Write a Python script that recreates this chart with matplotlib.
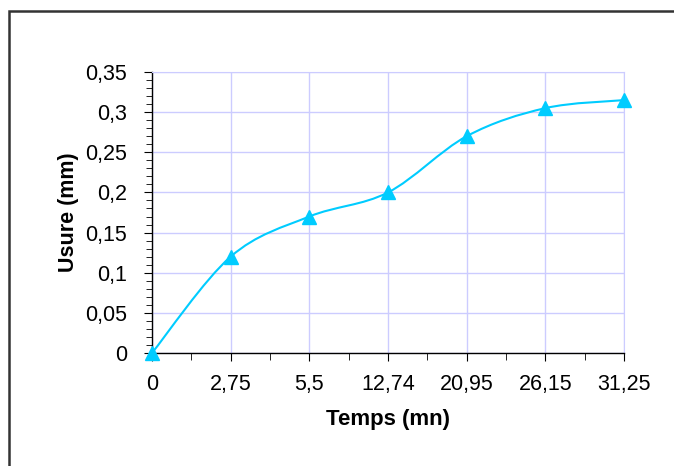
import numpy as np
import matplotlib
matplotlib.use("Agg")
import matplotlib.pyplot as plt
from matplotlib.path import Path
from matplotlib.patches import PathPatch, Rectangle

# data: wear (mm) vs time (mn), time shown as categories
temps_labels = ["0", "2,75", "5,5", "12,74", "20,95", "26,15", "31,25"]
usure = [0.0, 0.12, 0.17, 0.20, 0.27, 0.305, 0.315]
y_ticks = [0, 0.05, 0.1, 0.15, 0.2, 0.25, 0.3, 0.35]
y_labels = ["0", "0,05", "0,1", "0,15", "0,2", "0,25", "0,3", "0,35"]

line_col = "#00ccff"
grid_col = "#ccccff"

plt.rcParams["font.family"] = "Liberation Sans"

fig = plt.figure(figsize=(6.74, 4.66), dpi=100)
W, H = 674, 466
ax = fig.add_axes([152 / W, 1 - 353 / H, (624 - 152) / W, (353 - 72) / H])

xs = np.arange(len(usure))
ys = np.array(usure)

# smoothed line like the spreadsheet (bezier through the points)
verts = [(xs[0], ys[0])]
codes = [Path.MOVETO]
n = len(xs)
for i in range(n - 1):
    p0 = np.array([xs[max(i - 1, 0)], ys[max(i - 1, 0)]])
    p1 = np.array([xs[i], ys[i]])
    p2 = np.array([xs[i + 1], ys[i + 1]])
    p3 = np.array([xs[min(i + 2, n - 1)], ys[min(i + 2, n - 1)]])
    c1 = p1 + (p2 - p0) / 6
    c2 = p2 - (p3 - p1) / 6
    verts += [tuple(c1), tuple(c2), tuple(p2)]
    codes += [Path.CURVE4] * 3
ax.add_patch(PathPatch(Path(verts, codes), fill=False, edgecolor=line_col,
                       lw=1.5, zorder=3, clip_on=False))
ax.plot(xs, ys, linestyle="none", marker="^", markersize=9.5, color=line_col,
        zorder=4, clip_on=False)

ax.set_xlim(0, len(usure) - 1)
ax.set_ylim(0, 0.35)
ax.set_xticks(xs)
ax.set_xticklabels(temps_labels, fontsize=15.5)
ax.set_xticks(xs[:-1] + 0.5, minor=True)
ax.set_yticks(y_ticks)
ax.set_yticklabels(y_labels, fontsize=15.5)
ax.set_yticks(np.arange(0, 0.351, 0.01), minor=True)

ax.grid(True, which="major", color=grid_col, lw=1)
ax.set_axisbelow(True)
for s in ["top", "right"]:
    ax.spines[s].set_color(grid_col)
for s in ["left", "bottom"]:
    ax.spines[s].set_color("black")
    ax.spines[s].set_linewidth(1)
ax.tick_params(axis="x", which="major", length=6, pad=9)
ax.tick_params(axis="x", which="minor", length=5)
ax.tick_params(axis="y", which="major", length=6, pad=12)
ax.tick_params(axis="y", which="minor", length=4)

ax.set_xlabel("Temps (mn)", fontsize=16, fontweight="bold", labelpad=10)
ax.set_ylabel("Usure (mm)", fontsize=15.5, fontweight="bold", labelpad=4)

# chart frame (cut off at right and bottom)
fig.add_artist(Rectangle((9 / W, -0.1), 1.2, 1 - 11 / H + 0.1,
                         transform=fig.transFigure, fill=False,
                         edgecolor="#333333", lw=1.8))

fig.savefig("out.png", dpi=100)
